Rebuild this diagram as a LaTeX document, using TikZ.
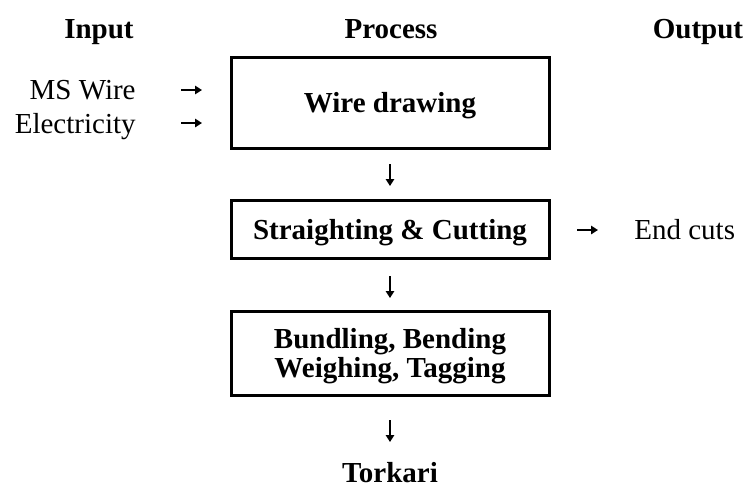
\documentclass[tikz,border=0pt]{standalone}
\usepackage{fontspec}
\setmainfont{Liberation Serif}
\usetikzlibrary{arrows.meta}
\begin{document}
\begin{tikzpicture}[x=0.5pt,y=-0.5pt,
  every node/.style={font=\fontsize{14.5}{14.5}\selectfont, inner sep=0pt},
  head/.style={font=\fontsize{14.5}{14.5}\selectfont\bfseries, anchor=base},
  plain/.style={anchor=base},
  stage/.style={draw, line width=1.5pt, minimum width=159pt, align=center,
    text depth=0pt, font=\fontsize{14.5}{14.5}\selectfont\bfseries},
  flow/.style={-{Triangle[length=3.5pt,width=4.2pt]}, line width=1pt}
]
\useasboundingbox (0,0) rectangle (746,494);

% column headings
\node[head] (hin) at (99,38) {Input};
\node[head] (hproc) at (391,38) {Process};
\node[head] (hout) at (698,38) {Output};

% inputs
\node[plain, anchor=base east] (ms) at (136,99) {MS Wire};
\node[plain, anchor=base east] (elec) at (136,133) {Electricity};

% process stages
\node[stage, minimum height=45.5pt] (wd) at (390,102.5) {Wire drawing};
\node[stage, minimum height=29pt] (sc) at (390,229) {Straighting \& Cutting};
\node[stage, minimum height=42pt] (bb) at (390,353) {Bundling, Bending\\Weighing, Tagging};

% output side
\node[plain, anchor=base west] (ec) at (634,239) {End cuts};
\node[head] (tk) at (390,482) {Torkari};

% small flow arrows
\coordinate (i1s) at (181,90);  \coordinate (i1e) at (202,90);
\coordinate (i2s) at (181,123); \coordinate (i2e) at (202,123);
\coordinate (d1s) at (390,164); \coordinate (d1e) at (390,186);
\coordinate (d2s) at (390,276); \coordinate (d2e) at (390,298);
\coordinate (d3s) at (390,420); \coordinate (d3e) at (390,442);
\coordinate (o1s) at (577,230); \coordinate (o1e) at (598,230);

\draw[flow] (i1s) -- (i1e);
\draw[flow] (i2s) -- (i2e);
\draw[flow] (d1s) -- (d1e);
\draw[flow] (d2s) -- (d2e);
\draw[flow] (d3s) -- (d3e);
\draw[flow] (o1s) -- (o1e);
\end{tikzpicture}
\end{document}
